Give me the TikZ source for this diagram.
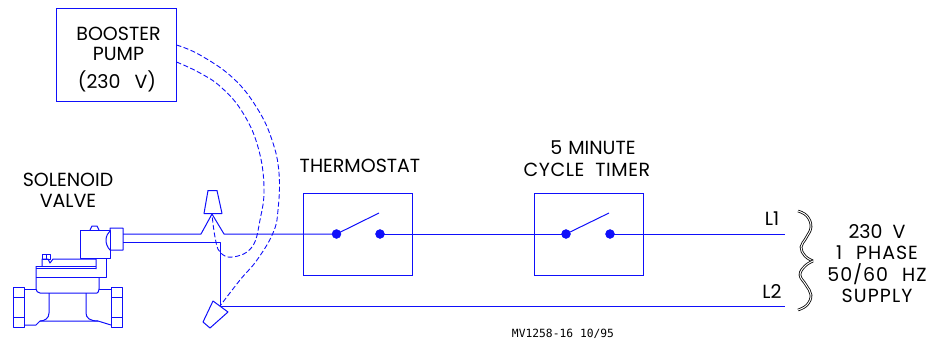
\documentclass[tikz,border=0pt]{standalone}
\usepackage{fontspec}
\setmainfont{Poppins}
\newfontfamily\smallmono{DejaVu Sans Mono}
\definecolor{wire}{RGB}{15,15,250}
\tikzset{
  wireline/.style={draw=wire,line width=1pt,line join=round},
  dashline/.style={draw=wire,line width=0.9pt,dash pattern=on 5pt off 2.5pt},
  valveline/.style={draw=wire,line width=1pt,line join=round},
  boxnode/.style={draw=wire,line width=1pt,minimum width=109pt,minimum height=82pt,inner sep=0pt},
  dotnode/.style={circle,fill=wire,draw=wire,minimum size=9pt,inner sep=0pt},
  lab/.style={font=\fontsize{19}{22}\selectfont,black,align=center,inner sep=0pt},
  smalllab/.style={font=\smallmono\fontsize{11.3}{13}\selectfont,black,inner sep=0pt},
}
\begin{document}
\begin{tikzpicture}[x=1pt,y=-1pt]
\useasboundingbox (0,0) rectangle (941,343);
% boxes
\node[draw=wire,line width=1pt,minimum width=120pt,minimum height=93pt,inner sep=0pt] (pump) at (116,54.5) {};
\node[boxnode] (tbox) at (358,234) {};
\node[boxnode] (cbox) at (589,234) {};
% labels
\node[lab] (p1) at (118.5,34) {BOOSTER};
\node[lab] (p2) at (118.5,54) {PUMP};
\node[lab] (p3) at (117,81) {(230\hspace{14pt}V)};
\node[lab] (s1a) at (68,180) {SOLENOID};
\node[lab] (s1b) at (68,201) {VALVE};
\node[lab] (thermt) at (360,166) {THERMOSTAT};
\node[lab] (t1) at (593,148) {5\hspace{6pt}MINUTE};
\node[lab] (t2) at (587,170) {\addfontfeature{LetterSpace=3}CYCLE\hspace{11pt}TIMER};
\node[lab] (l1t) at (772,219) {L1};
\node[lab] (l2t) at (772,292) {L2};
\node[lab] at (877,232) (s1) {230\hspace{10pt}V};
\node[lab] at (877,253) (s2) {\addfontfeature{LetterSpace=5}1\hspace{14pt}PHASE};
\node[lab] at (877,274) (s3) {\addfontfeature{LetterSpace=5}50/60\hspace{14pt}HZ};
\node[lab] at (877,296) (s4) {\addfontfeature{LetterSpace=6}SUPPLY};
\node[smalllab] (ref) at (563,334) {MV1258-16 10/95};
% switch dots
\node[dotnode] (a1) at (336.5,234) {};
\node[dotnode] (a2) at (380,234) {};
\node[dotnode] (b1) at (566,234) {};
\node[dotnode] (b2) at (610,234) {};
\coordinate (a3) at (379,213);
\coordinate (b3) at (609,213);
\draw[wireline] (a1.center) -- (a3);
\draw[wireline] (b1.center) -- (b3);
% named points
\coordinate (vu) at (123,234);
\coordinate (vl) at (123,242);
\coordinate (hl) at (201,234);
\coordinate (hm) at (212,214);
\coordinate (hr) at (224,234);
\coordinate (corner) at (220,242);
\coordinate (fl) at (220,306);
\coordinate (l1end) at (785,234);
\coordinate (l2end) at (785,306);
% wires
\draw[wireline] (vu) -- (hl) -- (hm) -- (hr) -- (a1.center);
\draw[wireline] (a2.center) -- (b1.center);
\draw[wireline] (b2.center) -- (l1end);
\draw[wireline] (vl) -- (corner) -- (fl) -- (l2end);
% aquastat and flow switch
\draw[wireline] (204,213.5) -- (222,213.5) -- (217,190.5) -- (208,190.5) -- cycle;
\draw[wireline] (213,301) -- (228,312) -- (210,328) -- (203,322) -- cycle;
% dashed cables
\draw[dashline] plot[smooth,tension=0.7] coordinates {(pump.east|-0,45) (200,55) (233,78) (257,108) (272,140) (279,173) (278,210) (273,233) (257,260) (240,280) (fl)};
\draw[dashline] plot[smooth,tension=0.7] coordinates {(pump.east|-0,62) (200,73) (222,88) (243,113) (258,147) (264,187) (260,220) (252,247) (233,257) (220,252) (215,237) (hm)};
% valve
\draw[valveline] (13,287) rectangle (24,327) (13,297) -- (24,297) (13,317) -- (24,317);
\draw[valveline] (111,287) rectangle (122,327) (111,297) -- (122,297) (111,317) -- (122,317);
\draw[valveline] (24,289) -- (36,289) (99,289) -- (111,289);
\draw[valveline] (36,266) -- (36,289) .. controls (36,291) and (38,293) .. (40,293) -- (97,293) .. controls (98,293) and (99,291) .. (99,289) -- (99,277);
\draw[valveline] (36,266) -- (96,266) (36,268.5) -- (96,268.5);
\draw[valveline] (36,277) -- (106,277) -- (106,258);
\draw[valveline] (24,325) -- (36,325) -- (40,321) -- (98,321) -- (111,325);
\draw[valveline] (49,293) -- (49,313) .. controls (49,318) and (45,321) .. (40,321);
\draw[valveline] (86,293) -- (86,313) .. controls (86,318) and (90,321) .. (98,321);
\draw[valveline] (42,266) -- (42,259) -- (48,259) -- (50,263) -- (53,259) -- (96,259) -- (96,269);
\draw[valveline] (42,254) rectangle (50,259) (46,254) -- (46,259);
\draw[valveline] (80,230) rectangle (110,258);
\draw[valveline] (96,258) -- (110,258) (85,258) -- (85,259);
\draw[valveline] (110,231) -- (110,228) -- (123,228) -- (123,250) -- (110,250) .. controls (107,247) and (106,243) .. (106,240) .. controls (106,236) and (108,233) .. (110,231);
\draw[valveline] (90,230) -- (92,226) -- (97,226) -- (99,230);
% brace
\draw[black,line width=2.6pt] plot[smooth,tension=0.7] coordinates {(798,211) (807,216) (811,227) (806,238) (801,247) (805,256) (813,261)};
\draw[white,line width=1pt] plot[smooth,tension=0.7] coordinates {(798,211) (807,216) (811,227) (806,238) (801,247) (805,256) (813,261)};
\draw[black,line width=2.6pt] plot[smooth,tension=0.7] coordinates {(813,261) (805,266) (800,275) (806,285) (811,295) (807,305) (798,310)};
\draw[white,line width=1pt] plot[smooth,tension=0.7] coordinates {(813,261) (805,266) (800,275) (806,285) (811,295) (807,305) (798,310)};
\end{tikzpicture}
\end{document}
